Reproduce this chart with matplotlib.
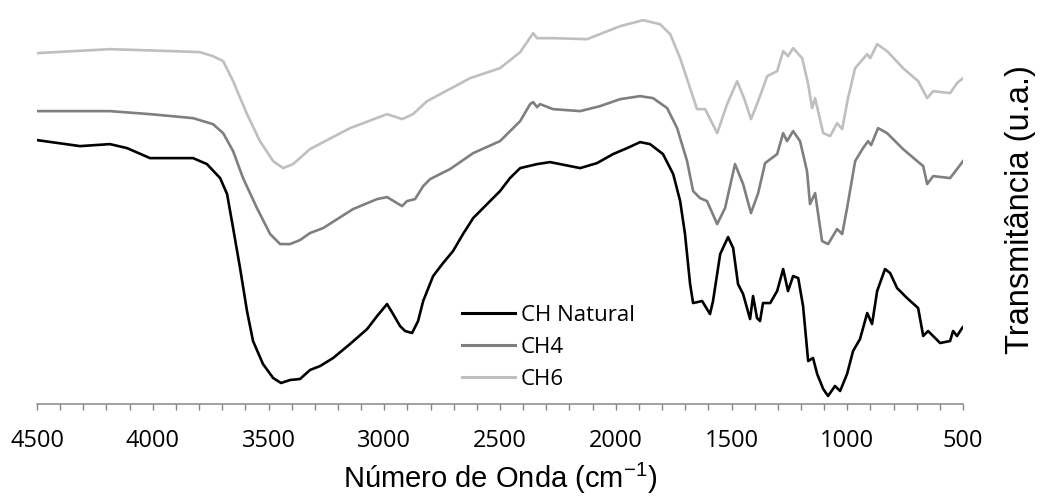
import matplotlib.pyplot as plt
from matplotlib.ticker import MultipleLocator

plt.rcParams["mathtext.fontset"] = "custom"
plt.rcParams["mathtext.rm"] = "Liberation Sans"
plt.rcParams["mathtext.it"] = "Liberation Sans"

# FTIR spectra (wavenumber in cm-1, transmittance in arbitrary units)
wn_natural = [4500, 4314, 4185, 4111, 4012, 3912, 3826, 3766, 3709, 3679, 3653, 3623, 3593, 3567,
              3524, 3480, 3446, 3407, 3364, 3321, 3277, 3221, 3148, 3074, 3031, 2988, 2962, 2932,
              2910, 2880, 2854, 2832, 2789, 2746, 2703, 2660, 2616, 2556, 2500, 2457, 2413, 2340,
              2284, 2197, 2154, 2081, 2012, 1951, 1895, 1852, 1796, 1752, 1722, 1701, 1679, 1666,
              1627, 1593, 1580, 1549, 1515, 1493, 1472, 1450, 1420, 1407, 1390, 1377, 1364, 1333,
              1303, 1277, 1256, 1234, 1212, 1191, 1169, 1148, 1130, 1104, 1083, 1053, 1031, 1001,
              975, 945, 914, 893, 871, 837, 815, 785, 742, 694, 672, 651, 599, 556, 543, 526, 504, 500]
t_natural = [264, 258, 260, 256, 246, 246, 246, 240, 226, 210, 176, 136, 93, 63,
             40, 26, 21, 24, 25, 34, 38, 46, 60, 75, 88, 100, 90, 78,
             73, 71, 83, 103, 128, 141, 153, 170, 186, 200, 213, 226, 236, 240,
             242, 238, 236, 241, 250, 256, 262, 260, 250, 230, 203, 170, 120, 101,
             103, 90, 103, 150, 167, 156, 120, 110, 85, 108, 86, 83, 101, 101,
             113, 135, 113, 128, 126, 98, 43, 46, 30, 15, 8, 18, 13, 30,
             53, 65, 91, 80, 113, 135, 131, 116, 106, 96, 68, 73, 61, 63, 73, 68, 76, 77]

wn_ch4 = [4500, 4185, 4012, 3826, 3740, 3696, 3653, 3610, 3550, 3493, 3450, 3407, 3364, 3321,
          3264, 3135, 3031, 2988, 2945, 2923, 2902, 2867, 2832, 2802, 2716, 2616, 2500, 2413,
          2370, 2357, 2340, 2327, 2271, 2154, 2068, 1981, 1895, 1839, 1778, 1735, 1692, 1666,
          1636, 1606, 1562, 1528, 1485, 1450, 1416, 1385, 1355, 1303, 1277, 1260, 1234, 1204,
          1174, 1161, 1139, 1109, 1083, 1044, 1022, 1001, 966, 932, 910, 897, 867, 828,
          759, 698, 672, 655, 629, 556, 526, 500]
t_ch4 = [293, 293, 290, 286, 280, 271, 253, 226, 196, 170, 160, 160, 164, 171,
         176, 195, 205, 207, 201, 198, 203, 205, 218, 225, 235, 251, 263, 283,
         300, 302, 297, 300, 295, 293, 298, 305, 308, 306, 296, 276, 243, 213,
         206, 203, 180, 196, 240, 220, 191, 211, 241, 250, 271, 263, 273, 263,
         233, 200, 211, 163, 160, 175, 170, 196, 243, 256, 263, 259, 276, 271,
         255, 243, 238, 220, 228, 226, 235, 243]

wn_ch6 = [4500, 4185, 3912, 3796, 3740, 3696, 3653, 3593, 3537, 3480, 3437, 3394, 3321, 3148,
          2988, 2923, 2876, 2815, 2629, 2500, 2413, 2357, 2340, 2314, 2271, 2124, 1981, 1882,
          1809, 1765, 1722, 1679, 1649, 1614, 1562, 1519, 1476, 1446, 1416, 1385, 1346, 1303,
          1277, 1256, 1234, 1195, 1169, 1152, 1139, 1104, 1074, 1044, 1022, 997, 966, 914,
          901, 871, 828, 759, 694, 655, 629, 556, 526, 500]
t_ch6 = [351, 355, 353, 352, 348, 343, 323, 290, 263, 243, 236, 240, 255, 276,
         290, 285, 290, 303, 326, 336, 352, 371, 366, 366, 366, 365, 378, 384,
         380, 370, 346, 316, 295, 295, 271, 300, 323, 306, 285, 303, 328, 333,
         353, 348, 356, 346, 320, 296, 306, 271, 268, 281, 275, 306, 336, 350,
         346, 360, 353, 336, 323, 306, 313, 311, 321, 326]

labels = ["CH Natural", "CH4", "CH6"]
colors = ["#000000", "#7f7f7f", "#bfbfbf"]

fig = plt.figure(figsize=(10.4, 4.96), dpi=100)
ax = fig.add_axes([0.0356, 0.1855, 0.8904, 0.798])

for wn, t, lab, c in zip([wn_natural, wn_ch4, wn_ch6], [t_natural, t_ch4, t_ch6], labels, colors):
    ax.plot(wn, t, color=c, lw=1.9, label=lab, solid_joinstyle="round")

ax.set_xlim(4500, 500)
ax.set_ylim(0, 396)
ax.xaxis.set_major_locator(MultipleLocator(500))
ax.xaxis.set_minor_locator(MultipleLocator(100))
ax.set_yticks([])
for s in ["left", "top", "right"]:
    ax.spines[s].set_visible(False)
ax.spines["bottom"].set_color("#868686")
ax.spines["bottom"].set_linewidth(1.1)
ax.tick_params(axis="x", which="both", direction="out", color="#868686", width=1.0)
ax.tick_params(axis="x", which="major", length=4, pad=14, labelsize=17)
ax.tick_params(axis="x", which="minor", length=4)
for lbl in ax.get_xticklabels():
    lbl.set_fontfamily("Open Sans")

fig.text(0.4808, (496 - 488) / 496, r"Número de Onda (cm$^{\mathrm{-1}}$)", ha="center",
         va="baseline", fontsize=21, family="Liberation Sans")
fig.text(1021 / 1040, 1 - 210 / 496, "Transmitância (u.a.)", ha="center", va="center",
         rotation=90, fontsize=23.5, family="Liberation Sans")

leg = fig.legend(loc="upper left", bbox_to_anchor=(462 / 1040, 1 - 305 / 496), frameon=False,
                 prop={"family": "Open Sans", "size": 16}, handlelength=2.4, handletextpad=0.25,
                 labelspacing=0.5, borderpad=0, borderaxespad=0)
for line in leg.get_lines():
    line.set_linewidth(2.2)

fig.savefig("out.png", dpi=100)
